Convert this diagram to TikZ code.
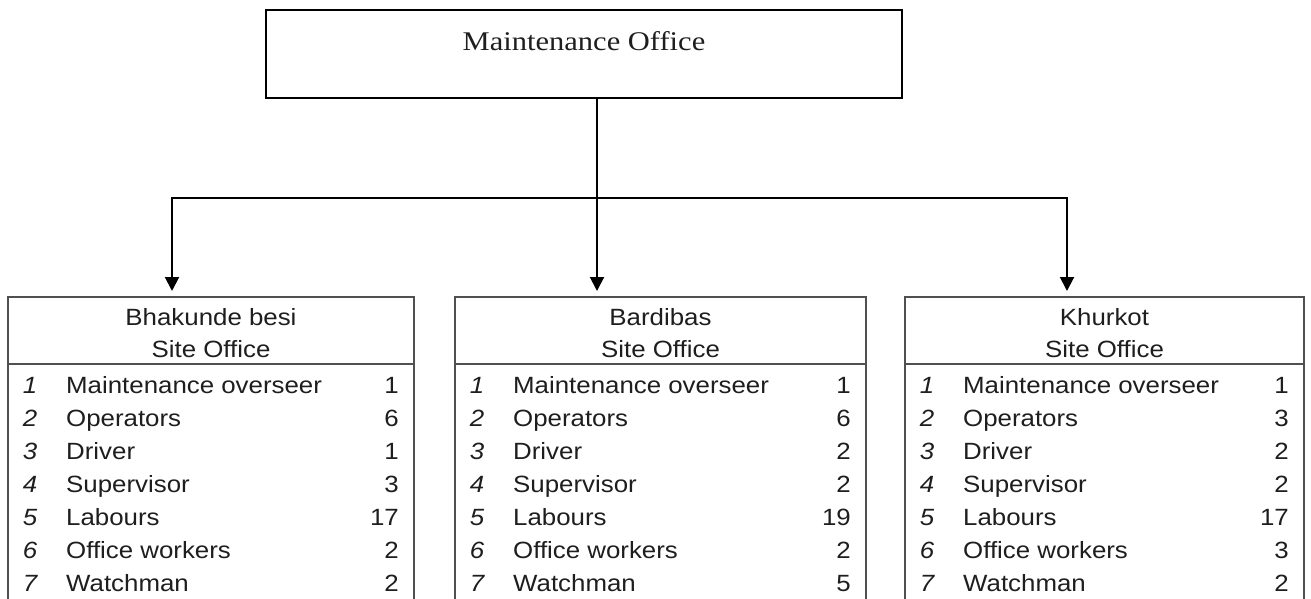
\documentclass[tikz,border=0pt]{standalone}
\usepackage{fontspec}
\setmainfont{Liberation Sans}[FakeStretch=1.1]
\newfontfamily\titlefont{Liberation Serif}[FakeStretch=1.13]
\usetikzlibrary{arrows.meta}
\definecolor{ink}{HTML}{1E1E1E}
\definecolor{frame}{HTML}{505050}
\tikzset{
  conn/.style={line width=2pt, draw=black},
  arr/.style={conn, -{Triangle[width=14pt,length=14pt]}},
  topbox/.style={draw=black, line width=2pt, minimum width=636pt, minimum height=88pt, inner sep=0pt},
  sitebox/.style={draw=frame, line width=1.3pt},
  headtxt/.style={anchor=base, text=ink, font=\fontsize{23.5}{28}\selectfont, inner sep=0pt},
  idx/.style={anchor=base, text=ink, font=\fontsize{23.5}{28}\selectfont\itshape, inner sep=0pt},
  role/.style={anchor=base west, text=ink, font=\fontsize{23.5}{28}\selectfont, inner sep=0pt},
  cnt/.style={anchor=base east, text=ink, font=\fontsize{23.5}{28}\selectfont, inner sep=0pt},
}
\begin{document}
\begin{tikzpicture}[x=1pt, y=-1pt]
\useasboundingbox (0,0) rectangle (1311,599);

% head office
\node[topbox] (maint) at (584,54) {};
\node[anchor=base, text=ink, font=\titlefont\fontsize{27}{32}\selectfont, inner sep=0pt] (mainttxt) at (584,51) {Maintenance Office};

% branching connectors
\coordinate (hub) at (597,198);
\coordinate (tipA) at (172,291);
\coordinate (tipB) at (597,291);
\coordinate (tipC) at (1067,291);
\draw[conn] (maint.south -| hub) -- (hub);
\draw[arr] (hub) -| (tipA);
\draw[arr] (hub) -- (tipB);
\draw[arr] (hub) -| (tipC);

% site offices: #1 left, #2 right, #3 name, #4-#10 counts, #11 node prefix
\newcommand\siteoffice[5]{%
  \draw[sitebox] (#1,600) -- (#1,297) -- (#2,297) -- (#2,600);
  \draw[sitebox] (#1,364) -- (#2,364);
  \node[headtxt] (#5name) at ({(#1+#2)/2},325) {#3};
  \node[headtxt] (#5sub) at ({(#1+#2)/2},357) {Site Office};
  \foreach \i/\r/\n [count=\k from 0] in {#4} {
    \node[idx] (#5i\i) at ({#1+22},{393+33*\k}) {\i};
    \node[role] (#5r\i) at ({#1+58},{393+33*\k}) {\r};
    \node[cnt] (#5n\i) at ({#2-15},{393+33*\k}) {\n};
  }%
}
\siteoffice{8}{414}{Bhakunde besi}{1/Maintenance overseer/1,2/Operators/6,3/Driver/1,4/Supervisor/3,5/Labours/17,6/Office workers/2,7/Watchman/2}{a}
\siteoffice{455}{866}{Bardibas}{1/Maintenance overseer/1,2/Operators/6,3/Driver/2,4/Supervisor/2,5/Labours/19,6/Office workers/2,7/Watchman/5}{b}
\siteoffice{905}{1304}{Khurkot}{1/Maintenance overseer/1,2/Operators/3,3/Driver/2,4/Supervisor/2,5/Labours/17,6/Office workers/3,7/Watchman/2}{c}
\end{tikzpicture}
\end{document}
